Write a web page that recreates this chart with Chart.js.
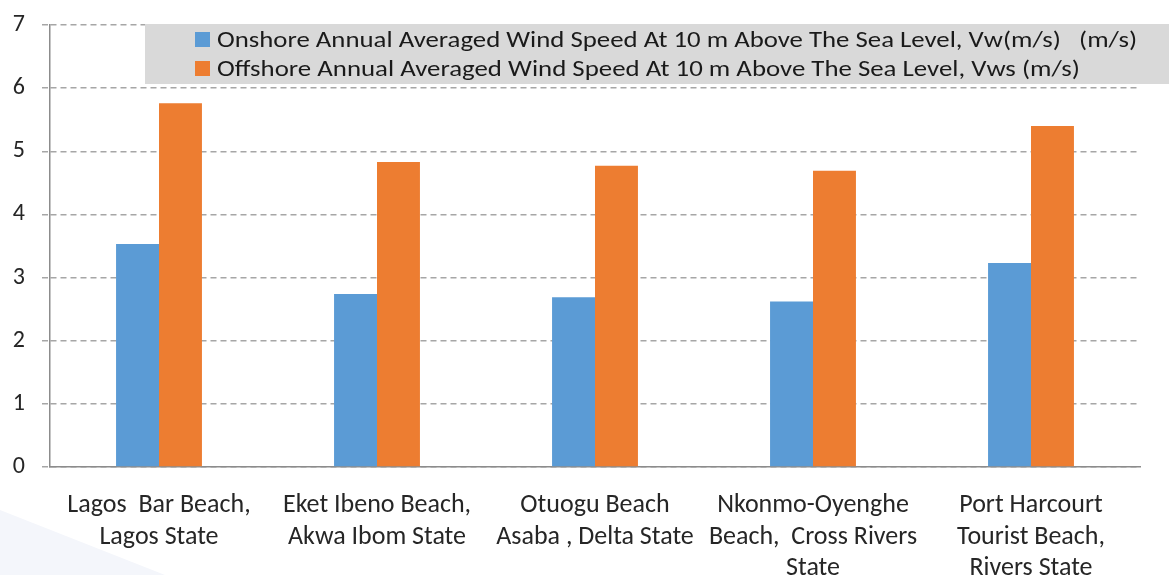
<!DOCTYPE html>
<html>
<head>
<meta charset="utf-8">
<script src="https://cdn.jsdelivr.net/npm/chart.js@4.4.1/dist/chart.umd.min.js"></script>
<style>
  html, body { margin: 0; padding: 0; background: #ffffff; }
  #wrap { width: 1169px; height: 575px; position: relative; }
</style>
</head>
<body>
<div id="wrap"><canvas id="c" width="1169" height="575"></canvas></div>
<script>
// Beach sites (multi-line category labels)
const categories = [
  ["Lagos  Bar Beach,", "Lagos State"],
  ["Eket Ibeno Beach,", "Akwa Ibom State"],
  ["Otuogu Beach", "Asaba , Delta State"],
  ["Nkonmo-Oyenghe", "Beach,  Cross Rivers", "State"],
  ["Port Harcourt", "Tourist Beach,", "Rivers State"]
];

// Annual averaged wind speed at 10 m (m/s)
const onshoreValues  = [3.53, 2.74, 2.69, 2.62, 3.23];
const offshoreValues = [5.76, 4.83, 4.77, 4.69, 5.40];

const seriesNames = [
  "Onshore Annual Averaged Wind Speed At 10 m Above The Sea Level, Vw(m/s)   (m/s)",
  "Offshore Annual Averaged Wind Speed At 10 m Above The Sea Level, Vws (m/s)"
];

const yTicks = [0, 1, 2, 3, 4, 5, 6, 7];

const FONT = "Carlito, Calibri, Lato, 'Open Sans', sans-serif";
const TEXT = "#262626";
const BLUE = "#5b9bd5";
const ORANGE = "#ed7d31";

// Faint slide decoration in the lower-left corner
const cornerShade = {
  id: "cornerShade",
  beforeDraw(chart) {
    const ctx = chart.ctx;
    ctx.save();
    ctx.fillStyle = "#f4f6fb";
    ctx.beginPath();
    ctx.moveTo(0, 510);
    ctx.lineTo(165, 575);
    ctx.lineTo(0, 575);
    ctx.closePath();
    ctx.fill();
    ctx.restore();
  }
};

// Grey legend panel drawn over the top of the plot
const panelLegend = {
  id: "panelLegend",
  afterDraw(chart) {
    const ctx = chart.ctx;
    const area = chart.chartArea;
    ctx.save();
    ctx.fillStyle = "#d9d9d9";
    ctx.fillRect(145, area.top - 1, chart.width - 145, 60);
    const colors = [BLUE, ORANGE];
    const rows = [area.top + 15, area.top + 44];
    const widths = [920, 863];
    ctx.font = "22px " + FONT;
    ctx.textBaseline = "middle";
    for (let i = 0; i < 2; i++) {
      ctx.fillStyle = colors[i];
      ctx.fillRect(195, rows[i] - 8, 15, 15);
      ctx.fillStyle = "#1a1a1a";
      const w = ctx.measureText(seriesNames[i]).width;
      const sx = widths[i] / w;
      ctx.save();
      ctx.translate(217, rows[i] + 1);
      ctx.scale(sx, 1);
      ctx.fillText(seriesNames[i], 0, 0);
      ctx.restore();
    }
    ctx.restore();
  }
};

new Chart(document.getElementById("c"), {
  type: "bar",
  data: {
    labels: categories,
    datasets: [
      { label: seriesNames[0], data: onshoreValues, backgroundColor: BLUE,
        categoryPercentage: 0.394, barPercentage: 1.0 },
      { label: seriesNames[1], data: offshoreValues, backgroundColor: ORANGE,
        categoryPercentage: 0.394, barPercentage: 1.0 }
    ]
  },
  options: {
    responsive: false,
    animation: false,
    layout: { padding: { top: 25, right: 29, left: 0, bottom: 0 } },
    plugins: {
      legend: { display: false },
      tooltip: { enabled: false }
    },
    scales: {
      x: {
        grid: { display: false, drawTicks: false },
        border: { display: true, color: "#8c8c8c", width: 1.5 },
        ticks: {
          color: TEXT,
          font: { family: FONT, size: 26, lineHeight: 1.21 },
          padding: 23,
          maxRotation: 0,
          autoSkip: false
        },
        afterFit(scale) { scale.height = 108; }
      },
      y: {
        min: 0,
        max: 7,
        afterBuildTicks(scale) { scale.ticks = yTicks.map(v => ({ value: v })); },
        grid: {
          color: "#a6a6a6",
          lineWidth: 1.5,
          tickLength: 8,
          tickBorderDash: [6, 4],
          drawOnChartArea: true
        },
        border: { display: true, color: "#8c8c8c", width: 1.5, dash: [6, 4] },
        ticks: {
          color: TEXT,
          font: { family: FONT, size: 24 },
          padding: 17
        },
        afterFit(scale) {
          scale.width = 50;
          scale.paddingTop = 0;
          scale.paddingBottom = 0;
        }
      }
    }
  },
  plugins: [cornerShade, panelLegend]
});
</script>
</body>
</html>
